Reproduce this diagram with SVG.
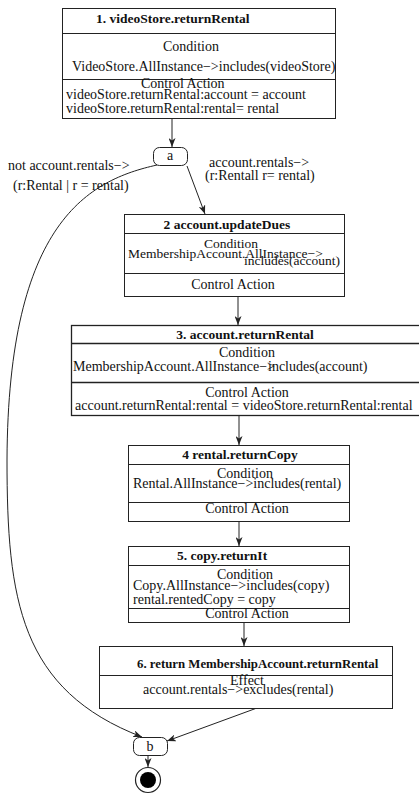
<svg xmlns="http://www.w3.org/2000/svg" width="419" height="801" viewBox="0 0 419 801">
<style>
text{font-family:"Liberation Serif","Times New Roman",serif;font-size:14px;fill:#111}
.t{font-weight:bold;font-size:13.5px}
.m{text-anchor:middle}
.box{fill:#fff;stroke:#222;stroke-width:1}
.div{stroke:#222;stroke-width:1}
.con{fill:none;stroke:#222;stroke-width:1}
</style>
<defs>
<marker id="ah" markerUnits="userSpaceOnUse" markerWidth="9" markerHeight="7" refX="9" refY="3.5" orient="auto">
<path d="M0,0 L9,3.5 L0,7 L2.5,3.5 z" fill="#222"/>
</marker>
</defs>
<rect width="419" height="801" fill="#fff"/>
<g id="connectors">
<path class="con" d="M172,118 L172,147" marker-end="url(#ah)"/>
<path class="con" d="M187,166 L205,214" marker-end="url(#ah)"/>
<path class="con" d="M157,165 C90,180 8,220 7,460 C7,600 20,690 142,737" marker-end="url(#ah)"/>
<path class="con" d="M238,296 L238,325" marker-end="url(#ah)"/>
<path class="con" d="M239,415 L239,445" marker-end="url(#ah)"/>
<path class="con" d="M239,521 L239,546" marker-end="url(#ah)"/>
<path class="con" d="M244,622 L244,646" marker-end="url(#ah)"/>
<path class="con" d="M257,708 L167,741" marker-end="url(#ah)"/>
<path class="con" d="M148,755 L148,767" marker-end="url(#ah)"/>
</g>
<g id="labels">
<text x="8" y="170">not account.rentals−&gt;</text>
<text x="13" y="190">(r:Rental | r = rental)</text>
<text x="209" y="167">account.rentals−&gt;</text>
<text x="205" y="180">(r:Rentall r= rental)</text>
</g>
<g id="n1">
<rect class="box" x="62.5" y="8.5" width="273" height="110"/>
<line class="div" x1="62.5" y1="33.5" x2="335.5" y2="33.5"/>
<line class="div" x1="62.5" y1="79.5" x2="335.5" y2="79.5"/>
<text class="t" x="96" y="23">1. videoStore.returnRental</text>
<text x="163" y="51">Condition</text>
<text x="72" y="71">VideoStore.AllInstance−&gt;includes(videoStore)</text>
<text x="141" y="88">Control Action</text>
<text x="66" y="99">videoStore.returnRental:account = account</text>
<text x="66" y="113">videoStore.returnRental:rental= rental</text>
</g>
<g id="a">
<rect class="box" x="153.5" y="147.5" width="34" height="18" rx="6"/>
<text class="m" x="170" y="160">a</text>
</g>
<g id="n2">
<rect class="box" x="124.5" y="214.5" width="220" height="82"/>
<line class="div" x1="124.5" y1="233.5" x2="344.5" y2="233.5"/>
<line class="div" x1="124.5" y1="273.5" x2="344.5" y2="273.5"/>
<text class="t m" x="227" y="229">2 account.updateDues</text>
<text class="m" x="231" y="248" style="font-size:13.5px">Condition</text>
<text x="128" y="258" style="font-size:13.5px">MembershipAccount.AllInstance−&gt;</text>
<text x="244" y="265" style="font-size:13.5px">includes(account)</text>
<text class="m" x="233" y="289">Control Action</text>
</g>
<g id="n3">
<rect class="box" x="71.5" y="325.5" width="352" height="90" style="stroke-width:1.3"/>
<line class="div" x1="71.5" y1="343.5" x2="423" y2="343.5" style="stroke-width:1.3"/>
<line class="div" x1="71.5" y1="382.5" x2="423" y2="382.5" style="stroke-width:1.3"/>
<text class="t m" x="245" y="339">3. account.returnRental</text>
<text class="m" x="247" y="357">Condition</text>
<text x="73" y="371">MembershipAccount.AllInstance−&gt;</text>
<text x="268" y="371">includes(account)</text>
<text class="m" x="247" y="397">Control Action</text>
<text x="75" y="410">account.returnRental:rental = videoStore.returnRental:rental</text>
</g>
<g id="n4">
<rect class="box" x="128.5" y="445.5" width="221" height="76"/>
<line class="div" x1="128.5" y1="464.5" x2="349.5" y2="464.5"/>
<line class="div" x1="128.5" y1="502.5" x2="349.5" y2="502.5"/>
<text class="t m" x="240" y="459">4 rental.returnCopy</text>
<text class="m" x="245" y="478">Condition</text>
<text x="133" y="488">Rental.AllInstance−&gt;includes(rental)</text>
<text class="m" x="247" y="513">Control Action</text>
</g>
<g id="n5">
<rect class="box" x="128.5" y="546.5" width="221" height="76"/>
<line class="div" x1="128.5" y1="565.5" x2="349.5" y2="565.5"/>
<line class="div" x1="128.5" y1="608.5" x2="349.5" y2="608.5"/>
<text class="t" x="177" y="560">5. copy.returnIt</text>
<text class="m" x="245" y="579">Condition</text>
<text x="133" y="590">Copy.AllInstance−&gt;includes(copy)</text>
<text x="133" y="604">rental.rentedCopy = copy</text>
<text class="m" x="247" y="618">Control Action</text>
</g>
<g id="n6">
<rect class="box" x="99.5" y="646.5" width="293" height="62"/>
<line class="div" x1="99.5" y1="675.5" x2="392.5" y2="675.5"/>
<text class="t" x="137" y="668" style="font-size:12.8px">6. return MembershipAccount.returnRental</text>
<text class="m" x="247" y="685">Effect</text>
<text x="143" y="694">account.rentals−&gt;excludes(rental)</text>
</g>
<g id="b">
<rect class="box" x="133.5" y="737.5" width="34" height="18" rx="6"/>
<text class="m" x="150" y="751">b</text>
</g>
<g id="final">
<circle cx="148" cy="780" r="12.5" fill="#fff" stroke="#222" stroke-width="1.2"/>
<circle cx="148" cy="780" r="8" fill="#000"/>
</g>
</svg>
